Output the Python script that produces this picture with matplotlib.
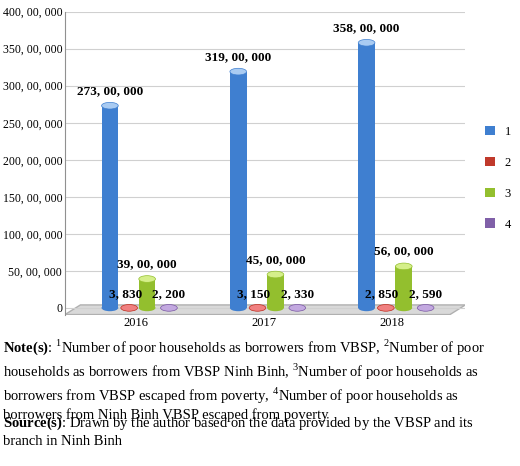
import numpy as np
import matplotlib.pyplot as plt
from matplotlib.patches import Ellipse, Polygon

plt.rcParams['font.family'] = ['Liberation Serif', 'DejaVu Serif']
plt.rcParams['mathtext.fontset'] = 'custom'
plt.rcParams['mathtext.rm'] = 'Liberation Serif'
plt.rcParams['mathtext.bf'] = 'Liberation Serif:bold'

years = ['2016', '2017', '2018']
s1 = [27300000, 31900000, 35800000]
s2 = [3830, 3150, 2850]
s3 = [3900000, 4500000, 5600000]
s4 = [2200, 2330, 2590]
lab1 = ['273, 00, 000', '319, 00, 000', '358, 00, 000']
lab2 = ['3, 830', '3, 150', '2, 850']
lab3 = ['39, 00, 000', '45, 00, 000', '56, 00, 000']
lab4 = ['2, 200', '2, 330', '2, 590']
yticks = [0, 5000000, 10000000, 15000000, 20000000, 25000000, 30000000, 35000000, 40000000]
ytlab = ['0', '50, 00, 000', '100, 00, 000', '150, 00, 000', '200, 00, 000',
         '250, 00, 000', '300, 00, 000', '350, 00, 000', '400, 00, 000']

series = [s1, s2, s3, s4]
names = ['1', '2', '3', '4']
body = ['#3f7fd0', '#c0392b', '#93bf2e', '#8060a8']
top = ['#a9cbf2', '#f08080', '#d5ef8a', '#c3a9e0']
offs = [-0.15, 0.0, 0.14, 0.31]
w = 0.13
eh = 900000

fig = plt.figure(figsize=(5.2, 4.66), dpi=100)
ax = fig.add_axes([0.125, 0.325, 0.77, 0.65])
x = np.arange(len(years))

# floor
ax.add_patch(Polygon([[-0.5, -900000], [2.5, -900000], [2.62, 400000], [-0.38, 400000]],
                     closed=True, facecolor='#d9d9d9', edgecolor='#b0b0b0', zorder=1))

for i, s in enumerate(series):
    xs = x + offs[i]
    ax.bar(xs, s, width=w, color=body[i], zorder=3, label=names[i])
    for xx, v in zip(xs, s):
        ax.add_patch(Ellipse((xx, v), w, eh, facecolor=top[i], edgecolor=body[i], lw=0.5, zorder=4))
        ax.add_patch(Ellipse((xx, 0), w, eh, facecolor=body[i], zorder=2))

for j in range(3):
    ax.text(x[j] + offs[0], s1[j] + 1200000, lab1[j], ha='center', va='bottom', fontsize=9.5, fontweight='bold')
    ax.text(x[j] + offs[2], s3[j] + 1200000, lab3[j], ha='center', va='bottom', fontsize=9.5, fontweight='bold')
    ax.text(x[j] - 0.03, 1100000, lab2[j], ha='center', va='bottom', fontsize=9.5, fontweight='bold')
    ax.text(x[j] + 0.31, 1100000, lab4[j], ha='center', va='bottom', fontsize=9.5, fontweight='bold')

ax.set_xlim(-0.5, 2.62)
ax.set_ylim(-900000, 40000000)
ax.set_yticks(yticks)
ax.set_yticklabels(ytlab, fontsize=8.5)
ax.set_xticks(x + 0.05)
ax.set_xticklabels(years, fontsize=9)
ax.tick_params(length=0, pad=2)
ax.grid(axis='y', color='#d0d0d0', lw=0.8, zorder=0)
for sp in ['top', 'right']:
    ax.spines[sp].set_visible(False)
ax.spines['left'].set_color('#909090')
ax.spines['bottom'].set_visible(False)
ax.set_ylabel('Households', fontsize=10, fontweight='bold', labelpad=2)
ax.legend(loc='center left', bbox_to_anchor=(1.02, 0.45), frameon=False, fontsize=9,
          handlelength=0.8, handleheight=0.8, labelspacing=1.5)

fig.text(0.005, 0.275,
         r'$\mathbf{Note(s)}$: $^1$Number of poor households as borrowers from VBSP, $^2$Number of poor' '\n'
         r'households as borrowers from VBSP Ninh Binh, $^3$Number of poor households as' '\n'
         r'borrowers from VBSP escaped from poverty, $^4$Number of poor households as' '\n'
         'borrowers from Ninh Binh VBSP escaped from poverty',
         fontsize=10.5, va='top', linespacing=1.25)
fig.text(0.005, 0.11,
         r'$\mathbf{Source(s)}$: Drawn by the author based on the data provided by the VBSP and its' '\n'
         'branch in Ninh Binh', fontsize=10.5, va='top', linespacing=1.25)

fig.savefig('out.png', dpi=100)
